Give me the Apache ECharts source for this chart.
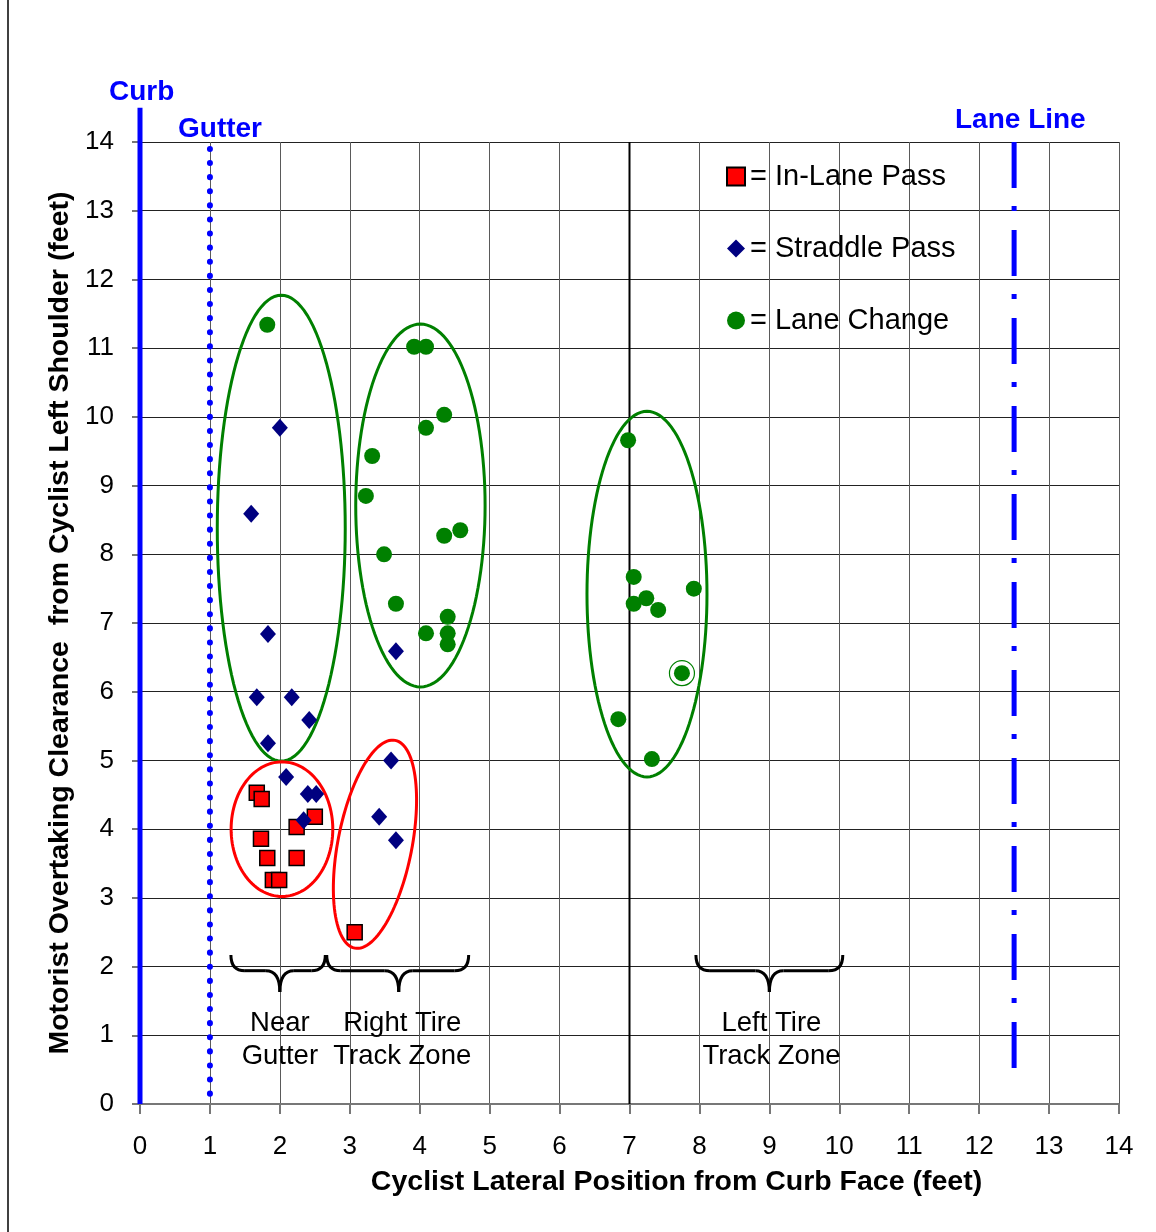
<!DOCTYPE html>
<html>
<head>
<meta charset="utf-8">
<script src="https://cdn.jsdelivr.net/npm/echarts@6/dist/echarts.min.js"></script>
<style>
html,body{margin:0;padding:0;background:#fff;}
#chart{width:1156px;height:1232px;}
</style>
</head>
<body>
<div id="chart"></div>
<script>
// ---------- data ----------
const xTicks = [0,1,2,3,4,5,6,7,8,9,10,11,12,13,14];
const yTicks = [0,1,2,3,4,5,6,7,8,9,10,11,12,13,14];

const inLaneX = [1.67,1.74,2.50,2.24,1.73,1.82,2.24,1.90,1.99,3.07];
const inLaneY = [4.53,4.44,4.18,4.03,3.86,3.58,3.58,3.26,3.26,2.50];

const straddleX = [2.00,1.59,1.83,1.67,2.17,2.42,1.83,3.66,2.09,2.40,2.52,2.34,3.59,3.42,3.66];
const straddleY = [9.84,8.59,6.84,5.92,5.92,5.59,5.25,6.59,4.76,4.51,4.51,4.13,5.00,4.18,3.84];

const laneChangeX = [1.82,3.92,4.09,4.35,4.09,3.32,3.23,4.35,4.58,3.49,3.66,4.40,4.09,4.40,4.40,6.98,7.06,7.06,7.24,7.41,7.92,7.75,6.84,7.32];
const laneChangeY = [11.34,11.02,11.02,10.03,9.84,9.43,8.85,8.27,8.35,8.00,7.28,7.09,6.85,6.85,6.69,9.66,7.67,7.28,7.36,7.19,7.50,6.27,5.60,5.02];

const ringX = [7.75];
const ringY = [6.27];

// grouping ellipses: center x, center y, half width, half height, tilt (deg), kind
const ellipseCX = [2.02, 4.01, 7.25, 2.03, 3.36];
const ellipseCY = [8.38, 8.71, 7.42, 4.00, 3.78];
const ellipseRX = [0.915, 0.925, 0.858, 0.727, 0.53];
const ellipseRY = [3.39, 2.64, 2.66, 0.98, 1.54];
const ellipseTilt = [0, 0, 0, 0, 11];
const ellipseKind = ['lane','lane','lane','inlane','inlane'];

// zone braces
const braceStart = [1.30, 2.67, 7.95];
const braceEnd   = [2.65, 4.70, 10.05];
const braceTip   = [2.00, 3.70, 9.00];
const braceTopY = 2.17, braceMidY = 1.94, braceBotY = 1.63;

const zoneLabelX = [2.00, 3.75, 9.03];
const zoneLabelY = [0.93, 0.93, 0.93];
const zoneLabels = ['Near\nGutter', 'Right Tire\nTrack Zone', 'Left Tire\nTrack Zone'];

// reference lines
const curbLine = [[0,0],[0,14.5]];
const gutterLine = [[1,0.15],[1,14]];
const laneLine = [[12.5,14],[12.5,0.45]];
const sevenLine = [[7,0],[7,14]];

const seriesNames = ['In-Lane Pass','Straddle Pass','Lane Change'];

// ---------- chart ----------
const FONT = '"Liberation Sans", Arial, sans-serif';
const chart = echarts.init(document.getElementById('chart'));

const zip = (a,b) => a.map((v,i) => [v, b[i]]);

const kindColor = {lane:'#008000', inlane:'#ff0000'};

function ellipseRender(params, api){
  const c = api.coord([api.value(0), api.value(1)]);
  const s = api.size([api.value(2), api.value(3)]);
  const rot = api.value(4) * Math.PI / 180;
  const kind = ellipseKind[params.dataIndex];
  const pts = [];
  for (let i = 0; i < 120; i++){
    const t = i / 120 * Math.PI * 2;
    const px = s[0] * Math.cos(t), py = s[1] * Math.sin(t);
    pts.push([c[0] + px*Math.cos(rot) - py*Math.sin(rot), c[1] + px*Math.sin(rot) + py*Math.cos(rot)]);
  }
  return {type:'polygon', shape:{points:pts}, style:{fill:'none', stroke:kindColor[kind], lineWidth:3}};
}

function braceRender(params, api){
  const L = api.coord([api.value(0), braceTopY]);
  const R = api.coord([api.value(1), braceTopY]);
  const T = api.coord([api.value(2), braceBotY]);
  const mid = api.coord([api.value(2), braceMidY])[1];
  const r = 14;
  const st = {fill:'none', stroke:'#000', lineWidth:3};
  return {type:'group', children:[
    {type:'bezierCurve', shape:{x1:L[0], y1:L[1], cpx1:L[0], cpy1:mid, x2:L[0]+r, y2:mid}, style:st},
    {type:'line', shape:{x1:L[0]+r, y1:mid, x2:T[0]-r, y2:mid}, style:st},
    {type:'bezierCurve', shape:{x1:T[0]-r, y1:mid, cpx1:T[0], cpy1:mid, x2:T[0], y2:T[1]}, style:st},
    {type:'bezierCurve', shape:{x1:T[0], y1:T[1], cpx1:T[0], cpy1:mid, x2:T[0]+r, y2:mid}, style:st},
    {type:'line', shape:{x1:T[0]+r, y1:mid, x2:R[0]-r, y2:mid}, style:st},
    {type:'bezierCurve', shape:{x1:R[0]-r, y1:mid, cpx1:R[0], cpy1:mid, x2:R[0], y2:R[1]}, style:st}
  ]};
}

const option = {
  animation:false,
  backgroundColor:'#fff',
  textStyle:{fontFamily:FONT},
  grid:{left:140, right:37, top:142, bottom:128},
  legend:{
    data:seriesNames,
    orient:'vertical',
    left:721, top:157,
    itemGap:43,
    itemWidth:18, itemHeight:18,
    formatter: n => '= ' + n,
    textStyle:{fontSize:29, color:'#000', fontFamily:FONT}
  },
  xAxis:{
    type:'value', min:0, max:14, interval:1,
    name:'Cyclist Lateral Position from Curb Face (feet)',
    nameLocation:'middle', nameGap:64,
    nameTextStyle:{fontSize:28.5, fontWeight:'bold', color:'#000', fontFamily:FONT, padding:[0,0,0,94]},
    axisLine:{show:true, lineStyle:{color:'#777', width:2}},
    axisTick:{show:true, length:10, lineStyle:{color:'#777', width:2}},
    axisLabel:{fontSize:26, color:'#000', margin:30, fontFamily:FONT, formatter: v => String(xTicks[v] ?? v)},
    splitLine:{show:true, lineStyle:{color:'#5a5a5a', width:1}}
  },
  yAxis:{
    type:'value', min:0, max:14, interval:1,
    name:'Motorist Overtaking Clearance  from Cyclist Left Shoulder (feet)',
    nameLocation:'middle', nameGap:61,
    nameTextStyle:{fontSize:28.5, fontWeight:'bold', color:'#000', fontFamily:FONT, padding:[0,0,0,0]},
    axisLine:{show:true, lineStyle:{color:'#777', width:2}},
    axisTick:{show:true, length:8, lineStyle:{color:'#777', width:2}},
    axisLabel:{fontSize:26, color:'#000', margin:26, fontFamily:FONT, formatter: v => String(yTicks[v] ?? v)},
    splitLine:{show:true, lineStyle:{color:'#222', width:1}}
  },
  graphic:[
    {type:'line', shape:{x1:8, y1:0, x2:8, y2:1232}, style:{stroke:'#000', lineWidth:1.5}, silent:true},
    {type:'text', left:109, top:78, style:{text:'Curb', font:'bold 28px '+FONT, fill:'#0000ff'}},
    {type:'text', left:178, top:115, style:{text:'Gutter', font:'bold 28px '+FONT, fill:'#0000ff'}},
    {type:'text', left:955, top:106, style:{text:'Lane Line', font:'bold 28px '+FONT, fill:'#0000ff'}}
  ],
  series:[
    {type:'line', name:'x7', data:sevenLine, symbol:'none', silent:true, z:1,
     lineStyle:{color:'#000', width:2}},
    {type:'line', name:'curb', data:curbLine, symbol:'none', silent:true, clip:false, z:3,
     lineStyle:{color:'#0000ff', width:5}},
    {type:'line', name:'gutter', data:gutterLine, symbol:'none', silent:true, clip:false, z:3,
     lineStyle:{color:'#0000ff', width:6, type:[0.1,14], cap:'round'}},
    {type:'line', name:'laneline', data:laneLine, symbol:'none', silent:true, clip:false, z:3,
     lineStyle:{color:'#0000ff', width:5, type:[46,18,5,19]}},
    {type:'custom', name:'ellipses', silent:true, clip:false, z:4,
     renderItem:ellipseRender,
     data:ellipseCX.map((v,i) => [v, ellipseCY[i], ellipseRX[i], ellipseRY[i], ellipseTilt[i]])},
    {type:'custom', name:'braces', silent:true, clip:false, z:4,
     renderItem:braceRender,
     data:braceStart.map((v,i) => [v, braceEnd[i], braceTip[i]])},
    {type:'scatter', name:'zones', silent:true, z:4, symbolSize:1,
     itemStyle:{opacity:0},
     data:zoneLabelX.map((v,i) => ({value:[v, zoneLabelY[i]], name:zoneLabels[i]})),
     label:{show:true, position:'inside', formatter: p => p.name, fontSize:27.5, lineHeight:33, color:'#000', opacity:1, fontFamily:FONT}},
    {type:'scatter', name:'In-Lane Pass', symbol:'rect', symbolSize:15, z:6,
     itemStyle:{color:'#ff0000', borderColor:'#000', borderWidth:1.5, opacity:1},
     data:zip(inLaneX, inLaneY)},
    {type:'scatter', name:'Straddle Pass', symbol:'diamond', symbolSize:[16,18], z:6,
     itemStyle:{color:'#000080', opacity:1},
     data:zip(straddleX, straddleY)},
    {type:'scatter', name:'Lane Change', symbol:'circle', symbolSize:16, z:6,
     itemStyle:{color:'#008000', opacity:1},
     data:zip(laneChangeX, laneChangeY)},
    {type:'scatter', name:'ring', symbol:'circle', symbolSize:25, z:5, silent:true,
     itemStyle:{color:'rgba(0,0,0,0)', borderColor:'#008000', borderWidth:1.2, opacity:1},
     data:zip(ringX, ringY)}
  ]
};
chart.setOption(option);
</script>
</body>
</html>
